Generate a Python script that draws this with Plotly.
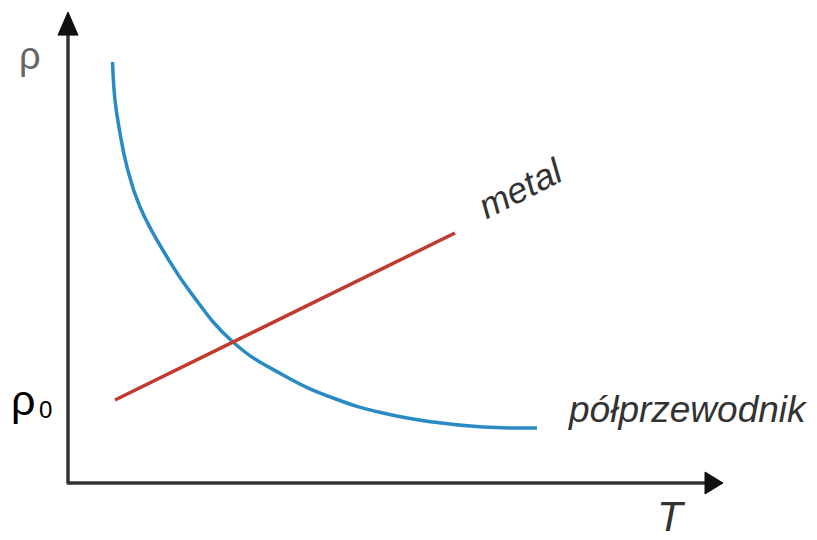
import plotly.graph_objects as go

# Data (T, rho) in arbitrary units
metal_T = [0.723, 5.954]
metal_rho = [1.774, 5.342]

semi_T = [0.685, 0.723, 0.800, 0.908, 1.108, 1.523, 1.877, 2.538, 3.308, 4.077, 4.846, 5.615, 6.385, 7.215]
semi_rho = [8.996, 8.184, 7.479, 6.752, 5.897, 4.829, 4.090, 3.013, 2.308, 1.816, 1.496, 1.303, 1.197, 1.175]

AX = "#333333"
FONT = "Liberation Sans, Arial"

fig = go.Figure()
fig.add_trace(go.Scatter(x=semi_T, y=semi_rho, mode="lines",
                         line=dict(color="#2a8bc4", width=3.5, shape="spline", smoothing=1.3),
                         hoverinfo="skip", showlegend=False, cliponaxis=False))
fig.add_trace(go.Scatter(x=metal_T, y=metal_rho, mode="lines",
                         line=dict(color="#c23a2e", width=3.5),
                         hoverinfo="skip", showlegend=False, cliponaxis=False))

shapes = [
    # vertical axis
    dict(type="line", xref="paper", yref="paper", x0=0, y0=0, x1=0, y1=0.96,
         line=dict(color=AX, width=3.5)),
    dict(type="path", xref="paper", yref="paper",
         path="M -0.0154,0.957 L 0,1.0064 L 0.0154,0.957 Z",
         fillcolor="#111111", line=dict(color="#111111", width=1)),
    # horizontal axis
    dict(type="line", xref="paper", yref="paper", x0=-0.002, y0=0, x1=0.985, y1=0,
         line=dict(color=AX, width=3.5)),
    dict(type="path", xref="paper", yref="paper",
         path="M 0.98,0.0235 L 1.0077,0 L 0.98,-0.0235 Z",
         fillcolor="#111111", line=dict(color="#111111", width=1)),
]

ann = [
    dict(xref="x", yref="y", x=6.954, y=6.293, text="<i>metal</i>", textangle=-27,
         font=dict(family=FONT, size=36, color="#333333"), xanchor="center"),
    dict(xref="x", yref="y", x=9.54, y=1.58, text="<i>półprzewodnik</i>",
         font=dict(family=FONT, size=37, color="#333333"), xanchor="center"),
    dict(xref="paper", yref="paper", x=0.929, y=-0.0726, text="<i>T</i>",
         font=dict(family=FONT, size=42, color="#333333"), xanchor="center"),
    dict(xref="paper", yref="paper", x=-0.0585, y=0.912, text="ρ",
         font=dict(family=FONT, size=38, color="#666666"), xanchor="center"),
    dict(xref="paper", yref="paper", x=-0.0905, y=0.178, text="ρ",
         font=dict(family=FONT, size=43, color="#000000"), xanchor="left"),
    dict(xref="paper", yref="paper", x=-0.0346, y=0.158, text="0",
         font=dict(family=FONT, size=24, color="#000000"), xanchor="center"),
]
for a in ann:
    a.update(showarrow=False, yanchor="middle")

# page body has an 8px margin: size the figure so the plot area lands at the right pixels
fig.update_layout(
    width=809, height=532,
    margin=dict(l=60, r=99, t=7, b=57),
    paper_bgcolor="white", plot_bgcolor="white",
    xaxis=dict(range=[0, 10], visible=False, fixedrange=True),
    yaxis=dict(range=[0, 10], visible=False, fixedrange=True),
    shapes=shapes, annotations=ann, showlegend=False,
)
fig.write_html("out.html")
